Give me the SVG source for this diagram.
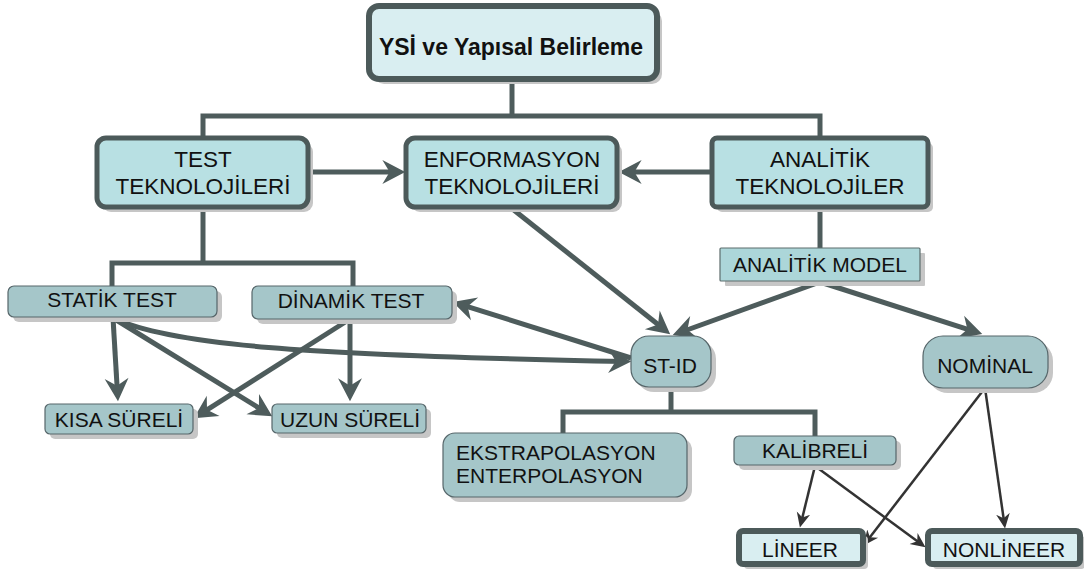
<svg xmlns="http://www.w3.org/2000/svg" width="1084" height="576" viewBox="0 0 1084 576">
  <style>
    text { font-family: "Liberation Sans", Arial, sans-serif; fill: #111; text-anchor: middle; }
    .t23 { font-size: 23px; }
    .t22 { font-size: 22.5px; }
    .t21 { font-size: 21px; }
    .bold { font-weight: bold; }
    .shadow { fill: #c6c6c6; }
    .main { fill: #b8e0e3; stroke: #4c5a5a; stroke-width: 5; }
    .top { fill: #d9eef1; stroke: #4c5a5a; stroke-width: 6; }
    .leaf { fill: #d9eef1; stroke: #4c5a5a; stroke-width: 6; }
    .sub { fill: #a5c6c9; stroke: #56666a; stroke-width: 1.2; }
    .model { fill: #acd6d9; stroke: #5d6d6d; stroke-width: 1.2; }
    .wire { fill: none; stroke: #4e5c5c; stroke-width: 5; }
    .thin { fill: none; stroke: #333; stroke-width: 2.5; }
  </style>
  <defs>
    <marker id="ah" markerUnits="userSpaceOnUse" markerWidth="26" markerHeight="26" viewBox="0 0 23 25" refX="16" refY="12.5" orient="auto">
      <path d="M0,1 L22,12.5 L0,24 L7,12.5 Z" fill="#4e5c5c"/>
    </marker>
    <marker id="ahs" markerUnits="userSpaceOnUse" markerWidth="16" markerHeight="16" viewBox="0 0 14 14" refX="9" refY="7" orient="auto">
      <path d="M0,1 L13,7 L0,13 L4,7 Z" fill="#333"/>
    </marker>
  </defs>

  <!-- connectors -->
  <g id="connectors">
    <!-- tree lines -->
    <path class="wire" d="M512,80 V116"/>
    <path class="wire" d="M203,138 V116 H820 V138"/>
    <path class="wire" d="M820,207 V248"/>
    <path class="wire" d="M203,207 V263"/>
    <path class="wire" d="M112,286 V263 H353 V286"/>
    <path class="wire" d="M671,387 V412"/>
    <path class="wire" d="M563,433 V412 H815 V436"/>
    <!-- thick arrows -->
    <path class="wire" d="M309,172 L399,172" marker-end="url(#ah)"/>
    <path class="wire" d="M712,172 L625,172" marker-end="url(#ah)"/>
    <path class="wire" d="M113,318 L117.6,395" marker-end="url(#ah)"/>
    <path class="wire" d="M113,318 L266.9,412.9" marker-end="url(#ah)"/>
    <path class="wire" d="M350,319 L350,395" marker-end="url(#ah)"/>
    <path class="wire" d="M350,319 L199.1,414.8" marker-end="url(#ah)"/>
    <path class="wire" d="M113,318 C170,345 300,355 625,361.5" marker-end="url(#ah)"/>
    <path class="wire" d="M631,358 L458.7,303.8" marker-end="url(#ah)"/>
    <path class="wire" d="M510,207 L665.3,330.3" marker-end="url(#ah)"/>
    <path class="wire" d="M820,282 L678.6,333" marker-end="url(#ah)"/>
    <path class="wire" d="M820,282 L976.3,332.2" marker-end="url(#ah)"/>
    <!-- thin arrows -->
    <path class="thin" d="M815,466 L801,523.1" marker-end="url(#ahs)"/>
    <path class="thin" d="M815,466 L921.8,544.6" marker-end="url(#ahs)"/>
    <path class="thin" d="M985,388 L866.4,541.8" marker-end="url(#ahs)"/>
    <path class="thin" d="M985,388 L1004.4,524" marker-end="url(#ahs)"/>
  </g>

  <g id="node-ysi">
    <rect class="shadow" x="374" y="11" width="288" height="73" rx="10"/>
    <rect class="top" x="369" y="6" width="288" height="73" rx="10"/>
    <text class="t23 bold" x="511" y="55">YSİ ve Yapısal Belirleme</text>
  </g>

  <g id="node-test-tek">
    <rect class="shadow" x="102" y="143" width="211" height="69" rx="9"/>
    <rect class="main" x="97" y="138" width="211" height="69" rx="9"/>
    <text class="t22" x="203" y="167">TEST</text>
    <text class="t22" x="203" y="194">TEKNOLOJİLERİ</text>
  </g>

  <g id="node-enf-tek">
    <rect class="shadow" x="411" y="143" width="211" height="69" rx="9"/>
    <rect class="main" x="406" y="138" width="211" height="69" rx="9"/>
    <text class="t22" x="512" y="167">ENFORMASYON</text>
    <text class="t22" x="512" y="194">TEKNOLOJİLERİ</text>
  </g>

  <g id="node-analitik-tek">
    <rect class="shadow" x="717" y="143" width="216" height="69" rx="5"/>
    <rect class="main" x="712" y="138" width="216" height="69" rx="5"/>
    <text class="t22" x="820" y="167">ANALİTİK</text>
    <text class="t22" x="820" y="194">TEKNOLOJİLER</text>
  </g>

  <g id="node-analitik-model">
    <rect class="shadow" x="725" y="253" width="200" height="33" rx="1"/>
    <rect class="model" x="720" y="248" width="200" height="33" rx="1"/>
    <text class="t21" x="820" y="272">ANALİTİK MODEL</text>
  </g>

  <g id="node-statik">
    <rect class="shadow" x="13" y="291" width="209" height="31" rx="6"/>
    <rect class="sub" x="8" y="286" width="209" height="31" rx="6"/>
    <text class="t21" x="112" y="307">STATİK TEST</text>
  </g>

  <g id="node-dinamik">
    <rect class="shadow" x="257" y="291" width="200" height="33" rx="6"/>
    <rect class="sub" x="252" y="286" width="200" height="33" rx="6"/>
    <text class="t21" x="351" y="308">DİNAMİK TEST</text>
  </g>

  <g id="node-kisa">
    <rect class="shadow" x="50" y="409" width="148" height="30" rx="5"/>
    <rect class="sub" x="45" y="404" width="148" height="30" rx="5"/>
    <text class="t21" x="119" y="427">KISA SÜRELİ</text>
  </g>

  <g id="node-uzun">
    <rect class="shadow" x="277" y="409" width="154" height="29" rx="5"/>
    <rect class="sub" x="272" y="404" width="154" height="29" rx="5"/>
    <text class="t21" x="350" y="427">UZUN SÜRELİ</text>
  </g>

  <g id="node-stid">
    <rect class="shadow" x="636" y="341" width="80" height="51" rx="18"/>
    <rect class="sub" x="631" y="336" width="80" height="51" rx="18"/>
    <text class="t21" x="670" y="373">ST-ID</text>
  </g>

  <g id="node-nominal">
    <rect class="shadow" x="928" y="341" width="125" height="52" rx="20"/>
    <rect class="sub" x="923" y="336" width="125" height="52" rx="20"/>
    <text class="t21" x="985" y="373">NOMİNAL</text>
  </g>

  <g id="node-ekstra">
    <rect class="shadow" x="448" y="438" width="244" height="64" rx="12"/>
    <rect class="sub" x="443" y="433" width="244" height="64" rx="12"/>
    <text class="t21" x="456" y="460" style="text-anchor:start">EKSTRAPOLASYON</text>
    <text class="t21" x="456" y="483" style="text-anchor:start">ENTERPOLASYON</text>
  </g>

  <g id="node-kalibreli">
    <rect class="shadow" x="739" y="441" width="162" height="29" rx="5"/>
    <rect class="sub" x="734" y="436" width="162" height="29" rx="5"/>
    <text class="t21" x="815" y="458">KALİBRELİ</text>
  </g>

  <g id="node-lineer">
    <rect class="shadow" x="744" y="536" width="124" height="33" rx="4"/>
    <rect class="leaf" x="739" y="531" width="124" height="33" rx="4"/>
    <text class="t21" x="800" y="557">LİNEER</text>
  </g>

  <g id="node-nonlineer">
    <rect class="shadow" x="933" y="536" width="152" height="33" rx="4"/>
    <rect class="leaf" x="928" y="531" width="152" height="33" rx="4"/>
    <text class="t21" x="1004" y="557">NONLİNEER</text>
  </g>
</svg>
